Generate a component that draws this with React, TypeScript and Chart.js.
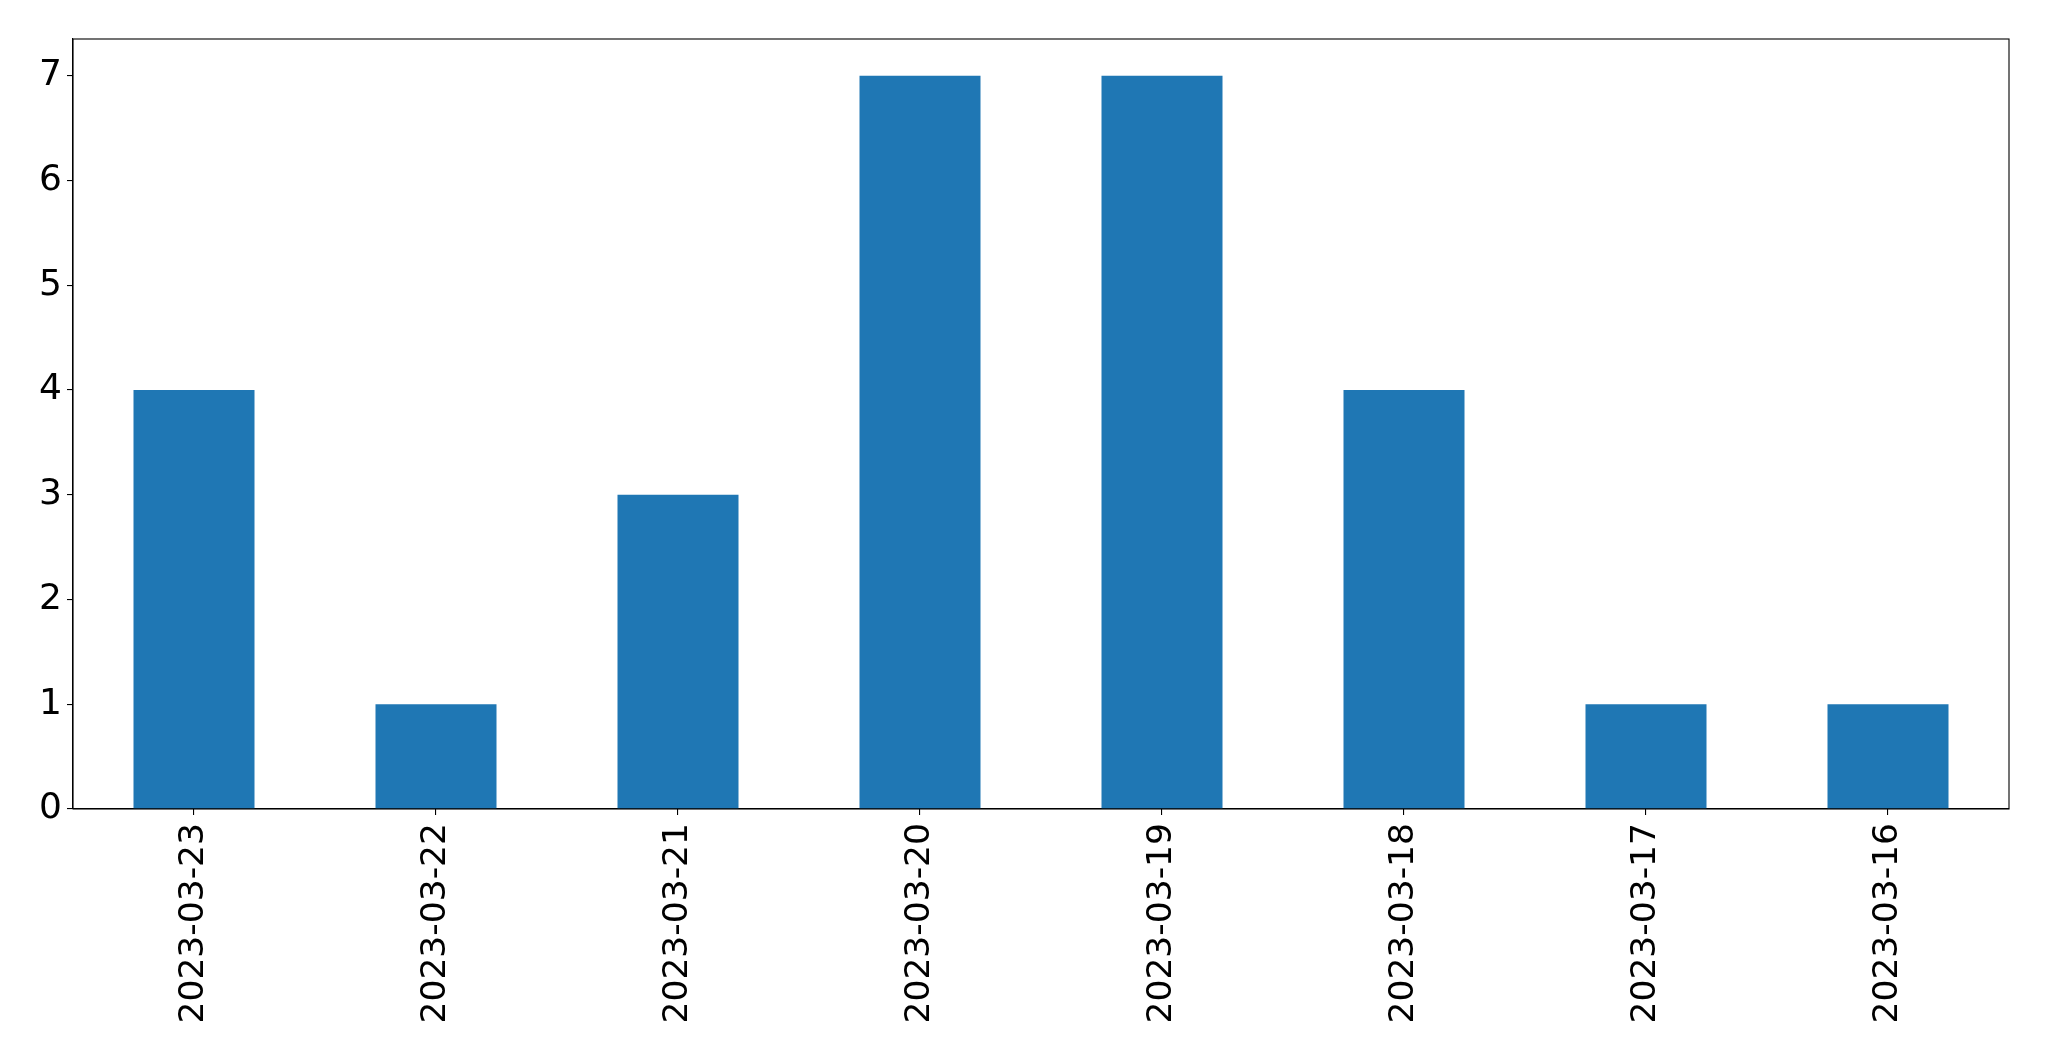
import React, { useEffect, useRef } from "react";
import { Chart, registerables } from "chart.js";

Chart.register(...registerables);

const categories = ["2023-03-23", "2023-03-22", "2023-03-21", "2023-03-20", "2023-03-19", "2023-03-18", "2023-03-17", "2023-03-16"];
const counts = [4, 1, 3, 7, 7, 4, 1, 1];
const yMax = 7.35;

const frame = {
  id: "frame",
  afterDraw(chart: any) {
    const { ctx, chartArea } = chart;
    ctx.save();
    ctx.strokeStyle = "#000";
    ctx.lineWidth = 1.1;
    ctx.strokeRect(chartArea.left, chartArea.top, chartArea.right - chartArea.left, chartArea.bottom - chartArea.top);
    ctx.restore();
  },
};

export default function App() {
  const ref = useRef<HTMLCanvasElement>(null);
  useEffect(() => {
    const xFont = { family: "DejaVu Sans", size: 34.5 };
    const yFont = { family: "DejaVu Sans", size: 36 };
    const chart = new Chart(ref.current!, {
      type: "bar",
      data: {
        labels: categories,
        datasets: [{ data: counts, backgroundColor: "#1f77b4", borderWidth: 0, barPercentage: 0.5, categoryPercentage: 1 }],
      },
      options: {
        animation: false,
        responsive: false,
        maintainAspectRatio: false,
        layout: { padding: { left: 0, top: 39, right: 40, bottom: 0 } },
        plugins: { legend: { display: false }, tooltip: { enabled: false } },
        scales: {
          x: {
            offset: true,
            grid: { display: true, offset: false, drawOnChartArea: false, drawTicks: true, tickLength: 6, color: "#000", lineWidth: 1.1 },
            border: { display: true, color: "#000", width: 1.1 },
            ticks: { color: "#000", font: xFont, maxRotation: 90, minRotation: 90, padding: 8, autoSkip: false },
            afterFit: (s: any) => { s.height = 252; },
          },
          y: {
            min: 0,
            max: yMax,
            grid: { display: true, drawOnChartArea: false, drawTicks: true, tickLength: 6, color: "#000", lineWidth: 1.1 },
            border: { display: true, color: "#000", width: 1.1 },
            ticks: { color: "#000", font: yFont, stepSize: 1, includeBounds: false, padding: 5 },
            afterFit: (s: any) => { s.width = 73; },
          },
        },
      },
      plugins: [frame],
    });
    return () => chart.destroy();
  }, []);
  return (
    <div style={{ position: "absolute", left: 0, top: 0, width: 2049, height: 1061, background: "#fff" }}>
      <canvas ref={ref} width={2049} height={1061} style={{ width: 2049, height: 1061 }} />
    </div>
  );
}
